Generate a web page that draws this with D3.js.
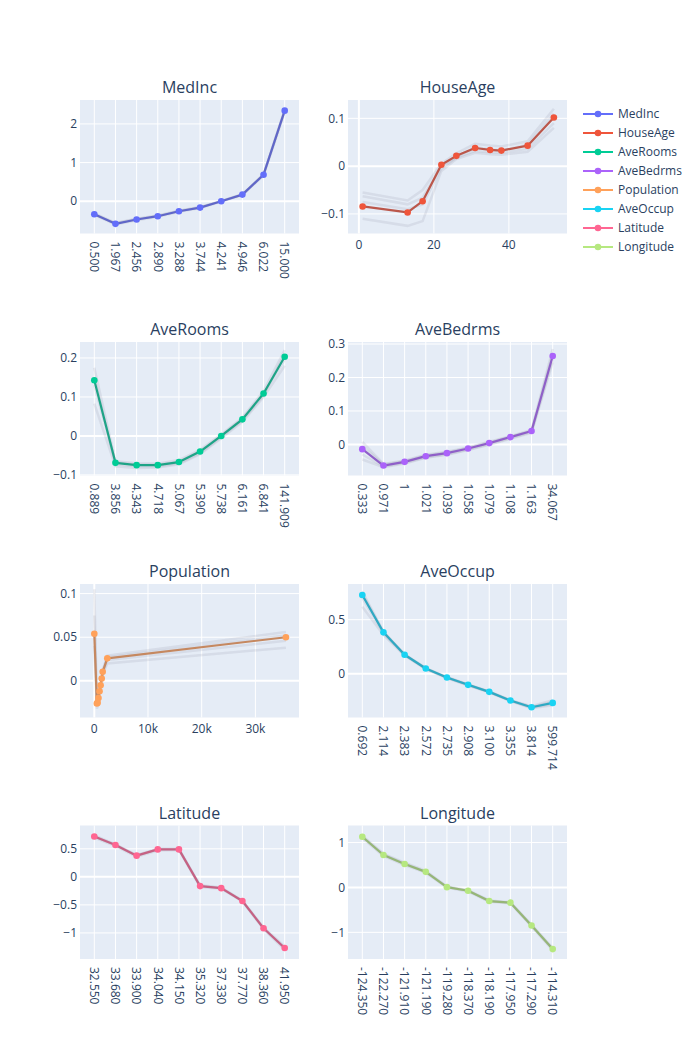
<!DOCTYPE html>
<html>
<head>
<meta charset="utf-8">
<script src="https://cdn.jsdelivr.net/npm/d3@7"></script>
<style>
  body { margin: 0; background: #fff; }
  svg { display: block; font-family: "Open Sans", sans-serif; }
</style>
</head>
<body>
<svg id="chart" width="700" height="1040"></svg>
<script>
// ---------------- DATA ----------------
const features = ["MedInc", "HouseAge", "AveRooms", "AveBedrms", "Population", "AveOccup", "Latitude", "Longitude"];
const colors = ["#636efa", "#EF553B", "#00cc96", "#ab63fa", "#FFA15A", "#19d3f3", "#FF6692", "#B6E880"];

const medIncX = ["0.500", "1.967", "2.456", "2.890", "3.288", "3.744", "4.241", "4.946", "6.022", "15.000"];
const medIncY = [-0.335, -0.584, -0.472, -0.386, -0.258, -0.163, 0.0, 0.172, 0.687, 2.343];
const medIncRuns = [
  [-0.31, -0.56, -0.45, -0.37, -0.245, -0.15, 0.01, 0.18, 0.70, 2.37],
  [-0.35, -0.60, -0.49, -0.40, -0.27, -0.175, -0.01, 0.16, 0.67, 2.30],
  [-0.33, -0.57, -0.46, -0.38, -0.25, -0.155, 0.005, 0.175, 0.69, 2.35]
];

const houseAgeX = [1, 13, 17, 22, 26, 31, 35, 38, 45, 52];
const houseAgeY = [-0.0844, -0.0969, -0.0734, 0.0028, 0.0215, 0.038, 0.0339, 0.0325, 0.0429, 0.1017];
const houseAgeRuns = [
  [-0.055, -0.072, -0.050, 0.005, 0.027, 0.047, 0.043, 0.041, 0.052, 0.120],
  [-0.063, -0.080, -0.066, 0.000, 0.020, 0.040, 0.035, 0.033, 0.045, 0.110],
  [-0.075, -0.090, -0.080, -0.005, 0.018, 0.032, 0.029, 0.028, 0.036, 0.090],
  [-0.110, -0.125, -0.115, -0.010, 0.015, 0.028, 0.025, 0.024, 0.030, 0.080]
];

const aveRoomsX = ["0.889", "3.856", "4.343", "4.718", "5.067", "5.390", "5.738", "6.161", "6.841", "141.909"];
const aveRoomsY = [0.143, -0.069, -0.075, -0.075, -0.067, -0.040, 0.0, 0.0426, 0.109, 0.203];
const aveRoomsRuns = [
  [0.175, -0.065, -0.070, -0.071, -0.062, -0.036, 0.004, 0.047, 0.115, 0.220],
  [0.150, -0.072, -0.078, -0.078, -0.070, -0.044, -0.003, 0.040, 0.104, 0.210],
  [0.130, -0.068, -0.073, -0.074, -0.066, -0.039, 0.001, 0.044, 0.110, 0.195],
  [0.083, -0.078, -0.082, -0.081, -0.073, -0.047, -0.006, 0.036, 0.100, 0.180]
];

const aveBedrmsX = ["0.333", "0.971", "1", "1.021", "1.039", "1.058", "1.079", "1.108", "1.163", "34.067"];
const aveBedrmsY = [-0.014, -0.063, -0.052, -0.035, -0.026, -0.012, 0.004, 0.022, 0.040, 0.264];
const aveBedrmsRuns = [
  [0.008, -0.058, -0.048, -0.031, -0.022, -0.009, 0.008, 0.025, 0.043, 0.285],
  [-0.005, -0.060, -0.050, -0.033, -0.024, -0.010, 0.006, 0.023, 0.041, 0.272],
  [-0.030, -0.066, -0.055, -0.038, -0.029, -0.015, 0.001, 0.019, 0.037, 0.255],
  [-0.045, -0.068, -0.057, -0.040, -0.031, -0.017, -0.001, 0.017, 0.035, 0.245]
];

const populationX = [3, 480, 620, 780, 980, 1180, 1380, 1560, 2420, 35682];
const populationY = [0.054, -0.026, -0.025, -0.0196, -0.0119, -0.005, 0.0027, 0.0104, 0.0258, 0.050];
const populationRuns = [
  [0.105, -0.022, -0.021, -0.016, -0.009, -0.002, 0.005, 0.012, 0.029, 0.056],
  [0.075, -0.025, -0.023, -0.018, -0.011, -0.004, 0.003, 0.011, 0.027, 0.052],
  [0.050, -0.028, -0.026, -0.021, -0.013, -0.006, 0.002, 0.009, 0.024, 0.046],
  [0.040, -0.032, -0.029, -0.023, -0.015, -0.008, 0.000, 0.007, 0.020, 0.038]
];

const aveOccupX = ["0.692", "2.114", "2.383", "2.572", "2.735", "2.908", "3.100", "3.355", "3.814", "599.714"];
const aveOccupY = [0.728, 0.383, 0.176, 0.049, -0.034, -0.102, -0.167, -0.247, -0.309, -0.269];
const aveOccupRuns = [
  [0.76, 0.39, 0.18, 0.053, -0.030, -0.098, -0.163, -0.243, -0.300, -0.245],
  [0.74, 0.385, 0.178, 0.050, -0.033, -0.101, -0.166, -0.246, -0.306, -0.260],
  [0.70, 0.375, 0.173, 0.046, -0.037, -0.105, -0.170, -0.250, -0.313, -0.280],
  [0.62, 0.36, 0.168, 0.042, -0.040, -0.108, -0.172, -0.253, -0.318, -0.290]
];

const latitudeX = ["32.550", "33.680", "33.900", "34.040", "34.150", "35.320", "37.330", "37.770", "38.360", "41.950"];
const latitudeY = [0.721, 0.567, 0.378, 0.490, 0.490, -0.165, -0.201, -0.431, -0.916, -1.270];
const latitudeRuns = [
  [0.74, 0.58, 0.39, 0.50, 0.50, -0.15, -0.19, -0.42, -0.90, -1.24],
  [0.70, 0.55, 0.36, 0.47, 0.48, -0.18, -0.21, -0.44, -0.93, -1.30],
  [0.72, 0.57, 0.38, 0.49, 0.49, -0.16, -0.20, -0.43, -0.92, -1.27]
];

const longitudeX = ["-124.350", "-122.270", "-121.910", "-121.190", "-119.280", "-118.370", "-118.190", "-117.950", "-117.290", "-114.310"];
const longitudeY = [1.129, 0.723, 0.524, 0.347, 0.007, -0.074, -0.303, -0.339, -0.849, -1.373];
const longitudeRuns = [
  [1.15, 0.75, 0.55, 0.37, 0.02, -0.06, -0.29, -0.33, -0.83, -1.35],
  [1.10, 0.70, 0.50, 0.33, -0.005, -0.09, -0.32, -0.35, -0.87, -1.40],
  [1.13, 0.73, 0.53, 0.35, 0.01, -0.07, -0.30, -0.34, -0.85, -1.37]
];

// tick values
const medIncTicks = [0, 1, 2];
const houseAgeTicks = [-0.1, 0, 0.1];
const houseAgeXTicks = [0, 20, 40];
const aveRoomsTicks = [-0.1, 0, 0.1, 0.2];
const aveBedrmsTicks = [0, 0.1, 0.2, 0.3];
const populationTicks = [0, 0.05, 0.1];
const populationXTicks = [0, 10000, 20000, 30000];
const populationXTickLabels = ["0", "10k", "20k", "30k"];
const aveOccupTicks = [0, 0.5];
const latitudeTicks = [-1, -0.5, 0, 0.5];
const longitudeTicks = [-1, 0, 1];

// ---------------- PANEL CONFIG ----------------
const panels = [
  { name: "MedInc", x: medIncX, y: medIncY, runs: medIncRuns, type: "cat", yDomain: [-0.833, 2.618], yTicks: medIncTicks },
  { name: "HouseAge", x: houseAgeX, y: houseAgeY, runs: houseAgeRuns, type: "num", xDomain: [-2.9, 55.5], xTicks: houseAgeXTicks, xTickLabels: houseAgeXTicks.map(String), yDomain: [-0.141, 0.1384], yTicks: houseAgeTicks },
  { name: "AveRooms", x: aveRoomsX, y: aveRoomsY, runs: aveRoomsRuns, type: "cat", yDomain: [-0.1015, 0.241], yTicks: aveRoomsTicks },
  { name: "AveBedrms", x: aveBedrmsX, y: aveBedrmsY, runs: aveBedrmsRuns, type: "cat", yDomain: [-0.0927, 0.306], yTicks: aveBedrmsTicks },
  { name: "Population", x: populationX, y: populationY, runs: populationRuns, type: "num", xDomain: [-2663, 38120], xTicks: populationXTicks, xTickLabels: populationXTickLabels, yDomain: [-0.042, 0.111], yTicks: populationTicks },
  { name: "AveOccup", x: aveOccupX, y: aveOccupY, runs: aveOccupRuns, type: "cat", yDomain: [-0.404, 0.830], yTicks: aveOccupTicks },
  { name: "Latitude", x: latitudeX, y: latitudeY, runs: latitudeRuns, type: "cat", yDomain: [-1.465, 0.916], yTicks: latitudeTicks },
  { name: "Longitude", x: longitudeX, y: longitudeY, runs: longitudeRuns, type: "cat", yDomain: [-1.594, 1.38], yTicks: longitudeTicks }
];

// ---------------- LAYOUT ----------------
const colLeft = [80, 348];
const panelW = 219;
const rowTop = [100, 342, 584, 825.5];
const panelH = 133.5;
const padX = 14.3;
const textColor = "#2a3f5f";
const bg = "#E5ECF6";

const svg = d3.select("#chart");
const fmt = d3.format("~g");

panels.forEach((p, i) => {
  const col = i % 2, row = Math.floor(i / 2);
  const left = colLeft[col], top = rowTop[row];
  const right = left + panelW, bottom = top + panelH;
  const color = colors[features.indexOf(p.name)];
  const lineColor = d3.interpolateRgb(color, "#5a5a6a")(0.35);

  const g = svg.append("g");
  g.append("rect").attr("x", left).attr("y", top).attr("width", panelW).attr("height", panelH).attr("fill", bg);

  const y = d3.scaleLinear().domain(p.yDomain).range([bottom, top]);
  let xPos;
  if (p.type === "cat") {
    const xs = d3.scalePoint().domain(p.x).range([left + padX, right - padX]);
    xPos = (d) => xs(d);
    g.selectAll(".vg").data(p.x).enter().append("line")
      .attr("x1", d => xs(d)).attr("x2", d => xs(d)).attr("y1", top).attr("y2", bottom)
      .attr("stroke", "#fff").attr("stroke-width", 1);
    g.selectAll(".xl").data(p.x).enter().append("text")
      .attr("transform", d => `translate(${xs(d)},${bottom + 8}) rotate(90)`)
      .attr("text-anchor", "start").attr("dy", "0.35em")
      .attr("font-size", 12).attr("fill", textColor)
      .text(d => d);
  } else {
    const xs = d3.scaleLinear().domain(p.xDomain).range([left, right]);
    xPos = (d) => xs(d);
    g.selectAll(".vg").data(p.xTicks).enter().append("line")
      .attr("x1", d => xs(d)).attr("x2", d => xs(d)).attr("y1", top).attr("y2", bottom)
      .attr("stroke", "#fff").attr("stroke-width", d => d === 0 ? 2 : 1);
    g.selectAll(".xl").data(p.xTicks).enter().append("text")
      .attr("x", d => xs(d)).attr("y", bottom + 15)
      .attr("text-anchor", "middle")
      .attr("font-size", 12).attr("fill", textColor)
      .text((d, k) => p.xTickLabels[k]);
  }

  g.selectAll(".hg").data(p.yTicks).enter().append("line")
    .attr("x1", left).attr("x2", right).attr("y1", d => y(d)).attr("y2", d => y(d))
    .attr("stroke", "#fff").attr("stroke-width", d => d === 0 ? 2 : 1);
  g.selectAll(".yl").data(p.yTicks).enter().append("text")
    .attr("x", left - 3).attr("y", d => y(d)).attr("dy", "0.35em")
    .attr("text-anchor", "end").attr("font-size", 12).attr("fill", textColor)
    .text(d => fmt(d));

  const clipId = "clip" + i;
  svg.append("clipPath").attr("id", clipId).append("rect")
    .attr("x", left).attr("y", top).attr("width", panelW).attr("height", panelH);
  const plot = g.append("g").attr("clip-path", `url(#${clipId})`);

  const line = d3.line().x((d, k) => xPos(p.x[k])).y(d => y(d));

  p.runs.forEach(r => {
    plot.append("path").attr("d", line(r)).attr("fill", "none")
      .attr("stroke", "rgba(110,110,130,0.12)").attr("stroke-width", 2.5);
  });
  plot.append("path").attr("d", line(p.y)).attr("fill", "none")
    .attr("stroke", lineColor).attr("stroke-width", 2.2)
    .attr("stroke-linejoin", "round");
  plot.selectAll(".pt").data(p.y).enter().append("circle")
    .attr("cx", (d, k) => xPos(p.x[k])).attr("cy", d => y(d)).attr("r", 3.3)
    .attr("fill", color);

  svg.append("text").attr("x", left + panelW / 2).attr("y", top - 7)
    .attr("text-anchor", "middle").attr("font-size", 16).attr("fill", textColor)
    .text(p.name);
});

// ---------------- LEGEND ----------------
const legend = svg.append("g");
features.forEach((f, i) => {
  const yy = 114 + i * 19;
  legend.append("line").attr("x1", 583).attr("x2", 613).attr("y1", yy).attr("y2", yy)
    .attr("stroke", colors[i]).attr("stroke-width", 2);
  legend.append("circle").attr("cx", 598).attr("cy", yy).attr("r", 3.3).attr("fill", colors[i]);
  legend.append("text").attr("x", 618).attr("y", yy).attr("dy", "0.35em")
    .attr("font-size", 12).attr("fill", textColor).text(f);
});
</script>
</body>
</html>
